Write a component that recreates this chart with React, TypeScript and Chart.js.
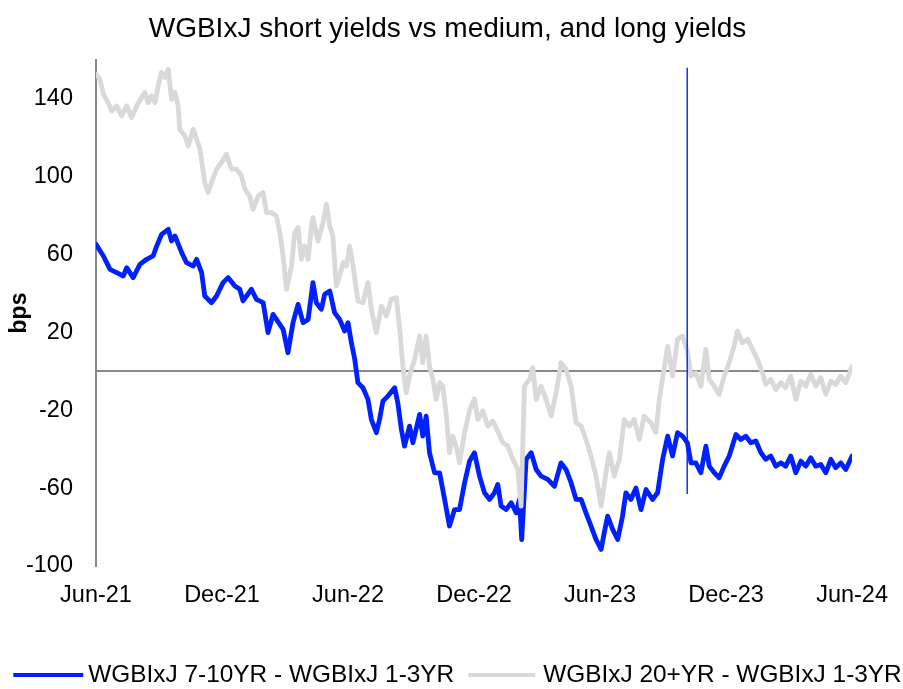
import React, { useEffect, useRef } from 'react';
import { Chart, registerables } from 'chart.js';

Chart.register(...registerables);

const FONT = "'Liberation Sans', Arial, sans-serif";

const chartTitle = 'WGBIxJ short yields vs medium, and long yields';
const yAxisTitle = 'bps';
const seriesNames = ['WGBIxJ 7-10YR - WGBIxJ 1-3YR', 'WGBIxJ 20+YR - WGBIxJ 1-3YR'];

// x axis: months since Jun-21
const xTickMonths = [0, 6, 12, 18, 24, 30, 36];
const xTickLabels = ['Jun-21', 'Dec-21', 'Jun-22', 'Dec-22', 'Jun-23', 'Dec-23', 'Jun-24'];
const yTickValues = [-100, -60, -20, 20, 60, 100, 140];
const yMin = -100;
const yMax = 160;

const blueMonths = [
  0, 0.35, 0.67, 0.98, 1.30, 1.46, 1.77, 2.09, 2.41, 2.72,
  2.89, 3.12, 3.44, 3.60, 3.76, 4.08, 4.31, 4.63, 4.79, 5.03,
  5.18, 5.50, 5.74, 6.05, 6.29, 6.61, 6.85, 7.00, 7.40, 7.64,
  7.96, 8.19, 8.43, 8.75, 8.91, 9.14, 9.38, 9.62, 9.86, 10.10,
  10.33, 10.49, 10.73, 10.89, 11.13, 11.36, 11.60, 11.84, 12.00, 12.16,
  12.32, 12.47, 12.71, 12.95, 13.11, 13.35, 13.50, 13.66, 13.90, 14.22,
  14.37, 14.54, 14.69, 14.93, 15.09, 15.41, 15.56, 15.72, 15.88, 16.12,
  16.36, 16.60, 16.83, 17.07, 17.31, 17.55, 17.79, 18.02, 18.26, 18.50,
  18.74, 18.97, 19.13, 19.29, 19.53, 19.77, 20.01, 20.16, 20.27, 20.48,
  20.72, 20.96, 21.19, 21.51, 21.83, 22.14, 22.38, 22.62, 22.86, 23.10,
  23.33, 23.57, 23.81, 24.05, 24.20, 24.36, 24.60, 24.84, 25.07, 25.23,
  25.47, 25.71, 25.95, 26.19, 26.50, 26.74, 26.98, 27.22, 27.45, 27.69,
  27.93, 28.16, 28.33, 28.56, 28.80, 29.04, 29.20, 29.44, 29.67, 29.91,
  30.15, 30.47, 30.70, 30.94, 31.18, 31.42, 31.66, 31.89, 32.13, 32.37,
  32.61, 32.84, 33.08, 33.32, 33.56, 33.80, 34.03, 34.27, 34.51, 34.75,
  34.99, 35.22, 35.46, 35.70, 36,
];
const blueValues = [
  65.3, 59.3, 52.4, 50.7, 49, 53.3, 48.2, 55, 57.6, 59.3,
  64.4, 70.4, 73, 67, 69.6, 61, 55.9, 54.1, 57.6, 50.7,
  38.7, 35.3, 38.7, 45.6, 48.2, 43.9, 42.2, 36.2, 42.2, 37,
  35.3, 19.9, 29.3, 24.2, 21.6, 9.6, 25, 34.4, 25, 26.7,
  45.6, 35.3, 31.9, 39.6, 41.3, 30.2, 26.7, 20.7, 25, 14.7,
  6.2, -5.8, -8.4, -14.4, -24.7, -31.5, -24.7, -15.3, -12.7, -8.4,
  -16.1, -29.8, -38.4, -28.1, -36.7, -22.1, -33.3, -23, -41.8, -52.1,
  -52.1, -65.8, -79.5, -71, -71, -57.2, -46, -41.8, -53.8, -62.4,
  -65.8, -62.4, -58.1, -69.2, -71, -67.5, -72.7, -65.8, -86.4, -45.2,
  -41.8, -50.4, -53.8, -55.5, -59, -47, -50.4, -57.2, -65.8, -65.8,
  -72.7, -79.5, -86.4, -91.5, -82.9, -74.4, -81.2, -86.4, -74.4, -62.4,
  -65.8, -59.9, -71, -60.7, -65.8, -62.4, -45.2, -33.3, -43.5, -31.5,
  -33.3, -36.7, -47, -47, -52.1, -38.4, -48.7, -52.1, -54.7, -48.7,
  -43.5, -32.4, -35, -33.3, -36.7, -35.8, -41.8, -45.2, -43.5, -48.7,
  -47, -48.7, -43.5, -52.1, -46.1, -48.7, -44.4, -48.7, -47.8, -52.1,
  -45.2, -49.5, -47, -50.4, -43.5,
];

const grayMonths = [
  0, 0.19, 0.35, 0.58, 0.75, 0.98, 1.22, 1.46, 1.70, 1.94,
  2.17, 2.33, 2.49, 2.65, 2.81, 2.96, 3.12, 3.28, 3.44, 3.60,
  3.76, 3.91, 3.99, 4.23, 4.39, 4.63, 4.79, 4.95, 5.18, 5.34,
  5.50, 5.74, 5.98, 6.21, 6.45, 6.69, 6.93, 7.09, 7.32, 7.48,
  7.72, 7.96, 8.12, 8.35, 8.59, 8.75, 8.91, 9.07, 9.31, 9.46,
  9.62, 9.78, 9.94, 10.10, 10.26, 10.33, 10.57, 10.81, 10.97, 11.13,
  11.28, 11.44, 11.60, 11.76, 11.92, 12.08, 12.24, 12.47, 12.71, 12.95,
  13.11, 13.35, 13.59, 13.83, 14.06, 14.30, 14.46, 14.61, 14.77, 14.93,
  15.17, 15.41, 15.56, 15.72, 15.88, 16.04, 16.20, 16.36, 16.51, 16.67,
  16.83, 16.99, 17.15, 17.31, 17.55, 17.79, 18.02, 18.18, 18.42, 18.66,
  18.89, 19.13, 19.37, 19.61, 19.85, 20.08, 20.24, 20.40, 20.64, 20.80,
  20.96, 21.19, 21.43, 21.67, 21.91, 22.14, 22.38, 22.62, 22.86, 23.10,
  23.33, 23.57, 23.81, 24.05, 24.28, 24.44, 24.68, 24.92, 25.15, 25.39,
  25.63, 25.87, 26.10, 26.42, 26.66, 26.82, 27.06, 27.22, 27.45, 27.69,
  27.93, 28.16, 28.33, 28.56, 28.80, 29.04, 29.20, 29.44, 29.67, 29.91,
  30.15, 30.38, 30.54, 30.78, 31.02, 31.26, 31.49, 31.73, 31.89, 32.13,
  32.37, 32.61, 32.84, 33.08, 33.32, 33.56, 33.80, 34.03, 34.27, 34.51,
  34.75, 34.99, 35.22, 35.46, 35.70, 36,
];
const grayValues = [
  152.7, 150.1, 142.4, 138.1, 133.8, 136.4, 131.3, 136.4, 130.4, 136.4,
  140.7, 143.3, 138.1, 141.6, 138.1, 146.7, 153.6, 151, 155.3, 139.8,
  143.3, 136.4, 124.4, 121, 115.8, 124.4, 119.3, 114.1, 97, 91.9,
  97, 103.9, 107.3, 111.6, 103.9, 103.9, 100.4, 93.6, 90.1, 83.3,
  90.1, 91.9, 81.6, 81.6, 79.9, 71.3, 59.3, 42.2, 54.1, 71.3,
  73.9, 57.6, 64.4, 57.6, 74.7, 79, 67, 76.4, 85.9, 74.7,
  69.6, 43.9, 49, 55.9, 54.1, 64.4, 54.1, 36.2, 35.3, 45.6,
  31.9, 19.9, 33.6, 28.4, 37, 37.9, 21.6, 2.7, -11, -2.4,
  6.2, 18.2, 4.5, 18.2, 2.7, -4.1, -14.4, -5.8, -7.6, -21.2,
  -41.8, -33.3, -38.4, -47, -31.5, -20, -14, -24.7, -20.4, -28.1,
  -25.5, -30.7, -36.7, -38.4, -45.2, -50.4, -69.2, -7.6, -4.1, 1.9,
  -14.4, -7.6, -14.4, -23, -11, 4.5, 1, -7.6, -26.4, -28.1,
  -35, -43.5, -53.8, -69.2, -52.1, -41.8, -53.8, -45.2, -24.7, -28.1,
  -24.7, -35, -23, -26.4, -31.5, -14.4, 2, 13, -2.4, 16.5,
  18.2, 10.4, -2.4, -0.7, -7.6, 11.3, -4.1, -7.6, -11.8, -2.4,
  4.5, 13, 20.7, 14.7, 16.5, 11.3, 6.2, -0.7, -6.7, -4.1,
  -9.3, -5.8, -8.4, -2.4, -14.4, -5, -7.6, -1.5, -7.6, -3.2,
  -11.8, -5, -6.7, -2.4, -5.8, 2.7,
];

// vertical marker line
const markerMonth = 28.15;
const markerRange = [-63, 156];

const BLUE = '#0020FF';
const GRAY = '#D9D9D9';
const AXIS = '#888888';

const textPlugin = {
  id: 'titleAndLegend',
  afterDraw(chart: any) {
    const ctx = chart.ctx;
    ctx.save();
    // title
    ctx.font = `28px ${FONT}`;
    ctx.fillStyle = '#000';
    ctx.textBaseline = 'middle';
    ctx.textAlign = 'center';
    ctx.fillText(chartTitle, 447.5, 29);

    // legend
    ctx.font = `24.4px ${FONT}`;
    ctx.textAlign = 'left';
    const items = [
      { label: seriesNames[0], color: BLUE, lineLen: 70, gap: 5 },
      { label: seriesNames[1], color: GRAY, lineLen: 67, gap: 8 },
    ];
    const itemGap = 14;
    const widths = items.map((it) => it.lineLen + it.gap + ctx.measureText(it.label).width);
    const total = widths.reduce((a, b) => a + b, 0) + itemGap;
    let x = (chart.width - total) / 2 + 6;
    const y = 675;
    items.forEach((it, i) => {
      ctx.strokeStyle = it.color;
      ctx.lineWidth = 4;
      ctx.beginPath();
      ctx.moveTo(x, y);
      ctx.lineTo(x + it.lineLen, y);
      ctx.stroke();
      ctx.fillText(it.label, x + it.lineLen + it.gap, y);
      x += widths[i] + itemGap;
    });
    ctx.restore();
  },
};

export default function App() {
  const canvasRef = useRef<HTMLCanvasElement | null>(null);

  useEffect(() => {
    document.body.style.margin = '0';
    const canvas = canvasRef.current;
    if (!canvas) return;

    const chart = new Chart(canvas, {
      type: 'line',
      data: {
        datasets: [
          {
            label: 'marker',
            data: markerRange.map((v) => ({ x: markerMonth, y: v })),
            borderColor: BLUE,
            borderWidth: 1.4,
            pointRadius: 0,
            order: -1,
          },
          {
            label: seriesNames[0],
            data: blueMonths.map((m, i) => ({ x: m, y: blueValues[i] })),
            borderColor: BLUE,
            backgroundColor: BLUE,
            borderWidth: 4.8,
            pointRadius: 0,
            tension: 0,
            borderJoinStyle: 'round',
            borderCapStyle: 'round',
            order: 2,
          },
          {
            label: seriesNames[1],
            data: grayMonths.map((m, i) => ({ x: m, y: grayValues[i] })),
            borderColor: GRAY,
            backgroundColor: GRAY,
            borderWidth: 4.8,
            pointRadius: 0,
            tension: 0,
            borderJoinStyle: 'round',
            borderCapStyle: 'round',
            order: 1,
          },
        ],
      },
      options: {
        responsive: false,
        animation: false,
        events: [],
        layout: { padding: { left: 0, right: 50, top: 60, bottom: 0 } },
        plugins: {
          legend: { display: false },
          tooltip: { enabled: false },
          title: { display: false },
        },
        scales: {
          x: {
            type: 'linear',
            min: xTickMonths[0],
            max: xTickMonths[xTickMonths.length - 1],
            afterFit: (scale: any) => {
              scale.height = 123;
            },
            afterBuildTicks: (scale: any) => {
              scale.ticks = xTickMonths.map((v) => ({ value: v }));
            },
            ticks: {
              autoSkip: false,
              maxRotation: 0,
              padding: 15,
              color: '#000',
              font: { family: FONT, size: 23.5 },
              callback: (v: any) => {
                const idx = xTickMonths.indexOf(Number(v));
                return idx >= 0 ? xTickLabels[idx] : '';
              },
            },
            grid: { display: false, drawTicks: false },
            border: { display: false },
          },
          y: {
            type: 'linear',
            min: yMin,
            max: yMax,
            afterFit: (scale: any) => {
              scale.width = 96;
            },
            afterBuildTicks: (scale: any) => {
              scale.ticks = [...yTickValues, 0].sort((a, b) => a - b).map((v) => ({ value: v }));
            },
            ticks: {
              autoSkip: false,
              padding: 23,
              color: '#000',
              font: { family: FONT, size: 23.5 },
              callback: (v: any) => (yTickValues.includes(Number(v)) ? String(v) : ''),
            },
            grid: {
              drawTicks: false,
              lineWidth: 2,
              color: (ctx: any) => (ctx.tick && ctx.tick.value === 0 ? AXIS : 'rgba(0,0,0,0)'),
            },
            border: { display: true, color: AXIS, width: 2 },
            title: {
              display: true,
              text: yAxisTitle,
              color: '#000',
              font: { family: FONT, size: 23, weight: 'bold' },
              padding: { top: 6, bottom: 0 },
            },
          },
        },
      },
      plugins: [textPlugin],
    });

    return () => chart.destroy();
  }, []);

  return (
    <div style={{ width: 903, height: 689, overflow: 'hidden' }}>
      <canvas ref={canvasRef} width={903} height={689} style={{ display: 'block' }} />
    </div>
  );
}
